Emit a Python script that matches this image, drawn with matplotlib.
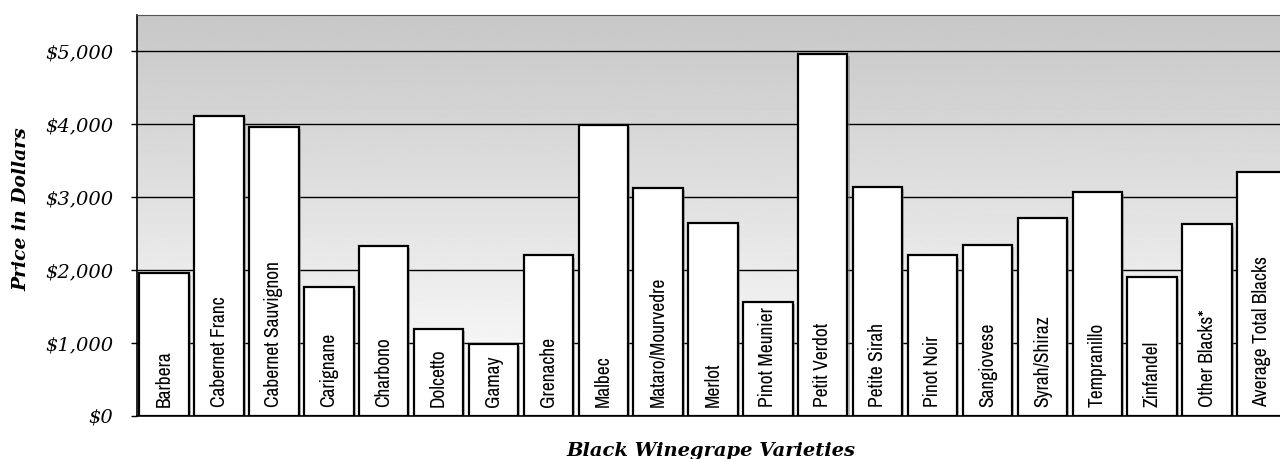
import numpy as np
import matplotlib.pyplot as plt
import matplotlib.patheffects as pe
from matplotlib.ticker import FuncFormatter

# Average price per ton, black winegrape varieties
varieties = ['Barbera', 'Cabernet Franc', 'Cabernet Sauvignon', 'Carignane',
             'Charbono', 'Dolcetto', 'Gamay', 'Grenache', 'Malbec',
             'Mataro/Mourvedre', 'Merlot', 'Pinot Meunier', 'Petit Verdot',
             'Petite Sirah', 'Pinot Noir', 'Sangiovese', 'Syrah/Shiraz',
             'Tempranillo', 'Zinfandel', 'Other Blacks*', 'Average Total Blacks']
prices = [1955, 4110, 3960, 1760, 2330, 1190, 990, 2200, 3990, 3120, 2650,
          1560, 4970, 3140, 2200, 2350, 2720, 3070, 1905, 2625, 3345]
y_ticks = [0, 1000, 2000, 3000, 4000, 5000]

fig = plt.figure(figsize=(12.8, 4.59), dpi=100)
# axes run a little past the right edge, like the original
ax = fig.add_axes([0.1068, 0.0943, 0.9005, 0.873])

x = np.arange(len(varieties))
ax.set_xlim(-0.5, len(varieties) - 0.5)
ax.set_ylim(0, 5500)

# grey at the top fading to white at the bottom
grad = np.linspace(0.78, 1.0, 256).reshape(-1, 1)
ax.imshow(grad, cmap='gray', vmin=0, vmax=1, aspect='auto', origin='upper',
          extent=[-0.5, len(varieties) - 0.5, 0, 5500], zorder=-2)

ax.set_axisbelow(True)
ax.yaxis.grid(True, color='black', linewidth=1)
ax.xaxis.grid(False)

bars = ax.bar(x, prices, width=0.9, color='white', edgecolor='black',
              linewidth=1.6, zorder=2)
for b in bars:
    b.set_path_effects([pe.SimplePatchShadow(offset=(1.5, -1.5),
                                             shadow_rgbFace='gray', alpha=0.5),
                        pe.Normal()])

for xi, name in zip(x, varieties):
    ax.annotate(name, (xi, 0), xytext=(0, 6), textcoords='offset points',
                rotation=90, ha='center', va='bottom', fontsize=14,
                family=['Archivo Narrow', 'DejaVu Sans'], zorder=3)

ax.set_yticks(y_ticks)
ax.yaxis.set_major_formatter(FuncFormatter(lambda v, p: f'${v:,.0f}'))
ax.set_xticks([])
ax.tick_params(axis='y', length=4, width=1, direction='out', pad=13)
for lbl in ax.get_yticklabels():
    lbl.set_family('DejaVu Serif')
    lbl.set_style('italic')
    lbl.set_fontsize(14)

for s in ['left', 'bottom']:
    ax.spines[s].set_color('black')
    ax.spines[s].set_linewidth(1.2)
ax.spines['top'].set_color('#555555')
ax.spines['right'].set_visible(False)

fig.text(21 / 1280, 0.5436, 'Price in Dollars', rotation=90, ha='center',
         va='center', family='DejaVu Serif', style='italic', weight='bold',
         fontsize=13.5)
fig.text(711 / 1280, 1 - 442 / 459, 'Black Winegrape Varieties', ha='center',
         va='top', family='DejaVu Serif', style='italic', weight='bold',
         fontsize=14)

fig.savefig('out.png', dpi=100)
